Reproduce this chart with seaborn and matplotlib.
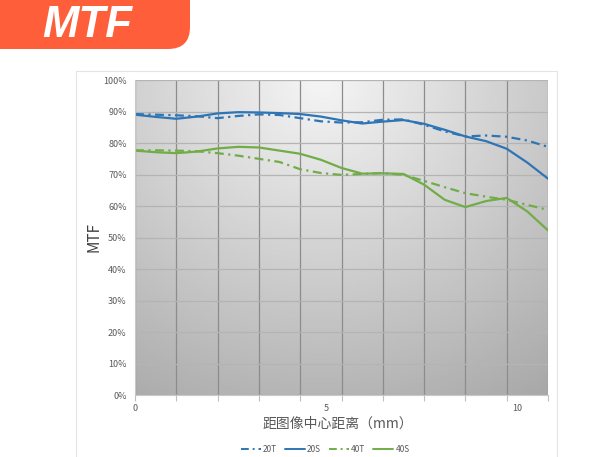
import numpy as np
import pandas as pd
import matplotlib
matplotlib.use("Agg")
import matplotlib.pyplot as plt
import seaborn as sns
from matplotlib.lines import Line2D
from matplotlib.patches import FancyBboxPatch, Rectangle
from matplotlib.transforms import IdentityTransform

# ---- data ----
# distance from image centre (mm)
x_mm = [0, 0.54, 1.08, 1.62, 2.16, 2.70, 3.24, 3.78, 4.32, 4.86, 5.40,
        5.94, 6.48, 7.02, 7.56, 8.10, 8.64, 9.18, 9.72, 10.26, 10.80]

mtf_20t = [89.2, 89.0, 88.8, 88.5, 87.9, 88.6, 89.1, 88.9, 87.9, 86.9, 86.5,
           86.6, 87.4, 87.5, 85.8, 83.7, 82.1, 82.4, 82.0, 80.8, 78.8]
mtf_20s = [89.0, 88.3, 87.7, 88.4, 89.4, 89.8, 89.7, 89.5, 89.2, 88.4, 87.2,
           86.2, 86.8, 87.3, 86.1, 84.2, 82.1, 80.6, 78.2, 73.8, 68.7]
mtf_40t = [77.7, 77.7, 77.6, 77.4, 76.8, 76.0, 75.0, 74.0, 71.7, 70.5, 69.9,
           70.2, 70.5, 69.9, 68.0, 66.0, 64.1, 63.0, 62.0, 60.4, 58.8]
mtf_40s = [77.6, 77.1, 76.8, 77.3, 78.3, 78.8, 78.6, 77.6, 76.6, 74.7, 72.1,
           70.3, 70.4, 70.2, 66.8, 62.0, 59.7, 61.6, 62.6, 58.3, 52.3]

series_names = ["20T", "20S", "40T", "40S"]
y_ticks = [0, 10, 20, 30, 40, 50, 60, 70, 80, 90, 100]
x_labels = [0, 5, 10]

# long-form table for seaborn
df = pd.concat([
    pd.DataFrame({"x": x_mm, "mtf": np.array(vals) / 100, "series": name})
    for name, vals in zip(series_names, [mtf_20t, mtf_20s, mtf_40t, mtf_40s])
])

BLUE = "#2e75b6"
GREEN = "#70ad47"
palette = {"20T": BLUE, "20S": BLUE, "40T": GREEN, "40S": GREEN}
dashes = {"20T": (4, 2, 1, 2), "20S": "", "40T": (4, 2, 1, 2), "40S": ""}

sns.set_theme(style="white")
plt.rcParams['font.family'] = ['Noto Sans CJK SC', 'DejaVu Sans']

W, H = 599, 457
fig = plt.figure(figsize=(W / 100, H / 100), dpi=100)
fig.patch.set_facecolor("white")

# light frame around the chart block
fig.add_artist(Rectangle((76, -5), 481, H - 71 + 5, transform=IdentityTransform(),
                         fill=False, ec="#e4e4e4", lw=0.8))

# orange title banner
fig.add_artist(FancyBboxPatch((-40, H - 49), 230, 90,
                              boxstyle="round,pad=0,rounding_size=22",
                              transform=IdentityTransform(),
                              fc="#fe5f3a", ec="none"))
fig.text(87 / W, 1 - 37 / H, "MTF", color="white", fontsize=31.5,
         fontweight="bold", fontstyle="italic", family="Liberation Sans",
         ha="center", va="baseline")

ax = fig.add_axes([135 / W, 1 - 395.3 / H, 413 / W, 315.3 / H])

# gradient grey plot area
gx, gy = np.meshgrid(np.linspace(0, 1, 200), np.linspace(0, 1, 200))
d = np.sqrt(((gx - 0.45) * 1.25) ** 2 + (gy - 1.0) ** 2)
shade = np.clip(0.96 - 0.25 * d, 0, 1)
ax.imshow(shade, cmap="gray", vmin=0, vmax=1, origin="lower",
          extent=[0, 10.8, 0, 1], aspect="auto", zorder=0)

sns.lineplot(data=df, x="x", y="mtf", hue="series", style="series",
             hue_order=series_names, style_order=series_names,
             palette=palette, dashes=dashes, estimator=None, sort=False,
             lw=1.6, legend=False, ax=ax)

ax.set_xlim(0, 10.8)
ax.set_ylim(0, 1)
ax.set_axisbelow(True)

# vertical grid every 1/10 of the axis, labels at 0, 5, 10
ax.set_xticks(np.linspace(0, 10.8, 11))
ax.set_xticklabels([])
ax.set_xticks(x_labels, minor=True)
ax.set_xticklabels([str(v) for v in x_labels], minor=True)
ax.xaxis.remove_overlapping_locs = False
ax.tick_params(axis="x", which="major", direction="out", length=4,
               width=0.8, color="#bfbfbf", bottom=True)
ax.tick_params(axis="x", which="minor", length=0, pad=6,
               labelsize=6.5, labelcolor="#595959", bottom=True)

ax.set_yticks([v / 100 for v in y_ticks])
ax.set_yticklabels([f"{v}%" for v in y_ticks])
ax.tick_params(axis="y", length=0, pad=6, labelsize=6.5, labelcolor="#595959")

ax.xaxis.grid(True, which="major", color="#8c8c8c", lw=0.9)
ax.yaxis.grid(True, which="major", color="#b4b4b4", lw=0.9)

for side in ["top", "right"]:
    ax.spines[side].set_visible(False)
ax.spines["left"].set_color("#c8c8c8")
ax.spines["bottom"].set_color("#c8c8c8")
ax.spines["left"].set_linewidth(0.8)
ax.spines["bottom"].set_linewidth(0.8)

ax.set_xlabel("距图像中心距离（mm）", fontsize=10, color="#595959")
ax.xaxis.label.set_va("center")
ax.xaxis.set_label_coords((338 - 135) / 413, (395.3 - 424) / 315.3)
ax.set_ylabel("MTF", fontsize=11, color="#404040")
ax.yaxis.label.set_va("center")
ax.yaxis.set_label_coords((94 - 135) / 413, (395.3 - 237) / 315.3)

handles = []
for n in series_names:
    h = Line2D([], [], color=palette[n], lw=1.4)
    if dashes[n]:
        h.set_dashes(dashes[n])
    handles.append(h)
fig.legend(handles, series_names, loc="center",
           bbox_to_anchor=(325 / W, 1 - 449 / H), ncol=4, frameon=False,
           fontsize=6, handlelength=2.4, handletextpad=0.3,
           columnspacing=0.9, labelcolor="#595959")

fig.savefig("out.png", dpi=100)
